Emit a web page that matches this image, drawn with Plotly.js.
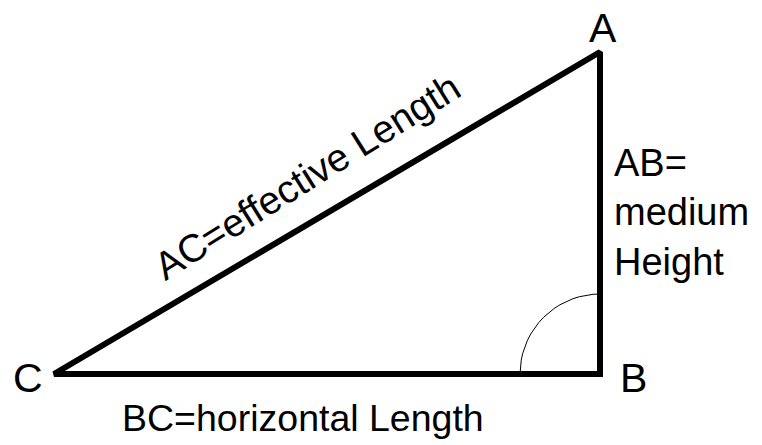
<!DOCTYPE html>
<html><head><meta charset="utf-8">
<script src="https://cdn.plot.ly/plotly-3.0.1.min.js"></script>
<style>html,body{margin:0;padding:0;background:#fff}#chart{width:762px;height:445px}</style>
</head><body><div id="chart"></div>
<script>
// Vertices of the triangle (pixel-like coordinates, y downward)
const vertexNames = ["C", "B", "A"];
const vertexX = [54, 600, 600];
const vertexY = [374, 374, 52];
// Right-angle arc at B
const arcRadius = 80;
const arcAngles = [180, 185, 190, 195, 200, 205, 210, 215, 220, 225, 230, 235, 240, 245, 250, 255, 260, 265, 270];
// Side labels
const sideLabels = ["AB=<br>medium<br>Height", "BC=horizontal Length", "AC=effective Length"];

const idx = [0, 1, 2, 0, 1];
const triX = idx.map(i => vertexX[i]);
const triY = idx.map(i => vertexY[i]);
const arcX = arcAngles.map(a => vertexX[1] + arcRadius * Math.cos(a * Math.PI / 180));
const arcY = arcAngles.map(a => vertexY[1] + arcRadius * Math.sin(a * Math.PI / 180));

const font = "Liberation Sans, Arial, sans-serif";

const traces = [
  {x: arcX, y: arcY, mode: "lines", line: {color: "#000", width: 1}, hoverinfo: "skip"},
  {x: triX, y: triY, mode: "lines", line: {color: "#000", width: 6}, hoverinfo: "skip"}
];

const annotations = [
  {x: 603, y: 28, text: vertexNames[2], font: {size: 41}},
  {x: 633, y: 378, text: vertexNames[1], font: {size: 41}},
  {x: 28, y: 378, text: vertexNames[0], font: {size: 41}},
  {x: 612, y: 212, text: sideLabels[0], xanchor: "left", align: "left", font: {size: 38}},
  {x: 303, y: 418, text: sideLabels[1], font: {size: 37.5}},
  {x: 307, y: 176, text: sideLabels[2], textangle: -32, font: {size: 39}}
].map(a => Object.assign({xref: "x", yref: "y", showarrow: false, yanchor: "middle",
  xanchor: a.xanchor || "center"}, a, {font: {family: font, color: "#000", size: a.font.size}}));

Plotly.newPlot("chart", traces, {
  width: 762, height: 445,
  margin: {l: 0, r: 0, t: 0, b: 0},
  paper_bgcolor: "#fff", plot_bgcolor: "#fff",
  showlegend: false,
  xaxis: {range: [0, 762], visible: false, fixedrange: true},
  yaxis: {range: [445, 0], visible: false, fixedrange: true},
  annotations: annotations
}, {staticPlot: true});
</script></body></html>
